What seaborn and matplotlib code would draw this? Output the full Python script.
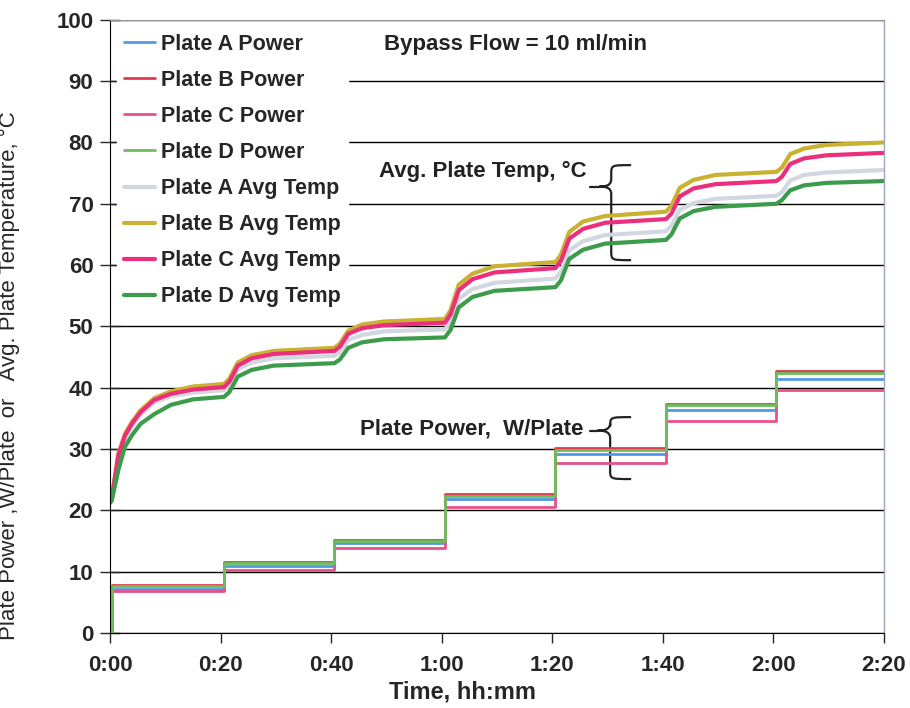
import matplotlib
matplotlib.use("Agg")
import matplotlib.pyplot as plt
from matplotlib.path import Path
from matplotlib.patches import PathPatch
from matplotlib.ticker import FuncFormatter, MultipleLocator
import pandas
import seaborn

# ---- data (minutes / W per plate / deg C) ----
POWER_TIME = [0, 0.3, 20.6, 40.6, 60.6, 80.6, 100.6, 120.6, 140]
POWER_A = [0, 7.2, 11.0, 14.6, 21.8, 29.2, 36.3, 41.5, 41.5]
POWER_B = [0, 7.8, 11.6, 15.2, 22.6, 30.2, 37.4, 42.8, 42.8]
POWER_C = [0, 6.9, 10.3, 13.8, 20.6, 27.8, 34.6, 39.6, 39.6]
POWER_D = [0, 7.6, 11.4, 15.0, 22.4, 29.9, 37.1, 42.4, 42.4]

TEMP_TIME = [0, 0.3, 1.5, 2.7, 4, 5.5, 8, 11, 15, 20.6,
             21.6, 23.1, 25.6, 29.6, 40.6,
             41.6, 43.1, 45.6, 49.6, 60.6,
             61.6, 63.1, 65.6, 69.6, 80.6,
             81.6, 83.1, 85.6, 89.6, 100.6,
             101.6, 103.1, 105.6, 109.6, 120.6,
             121.6, 123.1, 125.6, 129.6, 140]
TEMP_A = [21.4, 21.9, 28.5, 31.8, 33.8, 35.6, 37.6, 38.6, 39.2, 39.6,
          40.4, 43.0, 44.1, 44.8, 45.2,
          45.8, 47.8, 48.6, 49.2, 49.5,
          50.7, 54.5, 56.1, 57.1, 57.8,
          58.9, 62.4, 63.9, 64.9, 65.5,
          66.4, 69.0, 70.1, 70.8, 71.3,
          71.9, 73.8, 74.7, 75.1, 75.5]
TEMP_B = [21.5, 22.0, 29.3, 32.5, 34.5, 36.3, 38.3, 39.4, 40.2, 40.6,
          41.5, 44.1, 45.3, 46.0, 46.5,
          47.2, 49.3, 50.3, 50.8, 51.2,
          52.6, 56.8, 58.6, 59.8, 60.5,
          61.7, 65.4, 67.1, 68.0, 68.7,
          69.7, 72.6, 73.9, 74.7, 75.2,
          75.9, 78.1, 79.0, 79.6, 80.0]
TEMP_C = [21.5, 22.0, 29.0, 32.2, 34.2, 36.0, 38.0, 39.0, 39.7, 40.1,
          41.0, 43.6, 44.8, 45.5, 46.0,
          46.7, 48.8, 49.7, 50.2, 50.6,
          51.9, 55.9, 57.7, 58.8, 59.5,
          60.7, 64.3, 65.9, 66.9, 67.5,
          68.4, 71.2, 72.5, 73.2, 73.7,
          74.4, 76.5, 77.4, 77.9, 78.3]
TEMP_D = [21.2, 21.6, 26.6, 30.4, 32.3, 34.1, 35.7, 37.2, 38.1, 38.5,
          39.3, 41.8, 42.9, 43.6, 44.0,
          44.6, 46.5, 47.4, 47.9, 48.2,
          49.4, 53.1, 54.8, 55.8, 56.4,
          57.5, 61.0, 62.5, 63.5, 64.1,
          65.0, 67.6, 68.8, 69.5, 70.0,
          70.6, 72.2, 73.0, 73.4, 73.7]

POWER_SERIES = {
    "Plate A Power": (POWER_A, "#4f9ae6"),
    "Plate B Power": (POWER_B, "#e23a4e"),
    "Plate C Power": (POWER_C, "#e8508c"),
    "Plate D Power": (POWER_D, "#6cbf5c"),
}
TEMP_SERIES = {
    "Plate A Avg Temp": (TEMP_A, "#d3d7e0"),
    "Plate B Avg Temp": (TEMP_B, "#c9b232"),
    "Plate C Avg Temp": (TEMP_C, "#ec2f7c"),
    "Plate D Avg Temp": (TEMP_D, "#3d9c4c"),
}

FONT = "Liberation Sans"


def hhmm_formatter(x, pos):
    return f"{int(x // 60)}:{int(x % 60):02d}"


def draw_brace(ax, x_tip, x_mid, x_end, y_top, y_tip, y_bot):
    # curly brace opening to the right, tip pointing left
    r = (x_end - x_mid)
    verts = [
        (x_end, y_top), (x_mid, y_top), (x_mid, y_top), (x_mid, y_top - 1.5),
        (x_mid, y_tip + 1.2),
        (x_mid, y_tip), (x_mid - r * 0.4, y_tip), (x_mid - r * 0.6, y_tip),
        (x_mid - r * 0.4, y_tip), (x_mid, y_tip), (x_mid, y_tip - 1.2),
        (x_mid, y_bot + 1.5),
        (x_mid, y_bot), (x_mid, y_bot), (x_end, y_bot),
    ]
    codes = [Path.MOVETO, Path.CURVE4, Path.CURVE4, Path.CURVE4,
             Path.LINETO,
             Path.CURVE4, Path.CURVE4, Path.CURVE4,
             Path.CURVE4, Path.CURVE4, Path.CURVE4,
             Path.LINETO,
             Path.CURVE4, Path.CURVE4, Path.CURVE4]
    ax.add_patch(PathPatch(Path(verts, codes), fill=False, lw=1.6, color="#222222"))
    ax.plot([x_tip, x_mid - r * 0.6], [y_tip, y_tip], color="#222222", lw=1.6)


def draw_graph():
    seaborn.set_style("white")
    plt.rcParams["font.family"] = [FONT, "DejaVu Sans"]

    fig = plt.figure(figsize=(9.1, 7.08), dpi=100)
    ax = fig.add_axes([0.121, 0.106, 0.850, 0.866])

    for label, (values, color) in POWER_SERIES.items():
        df = pandas.DataFrame({"time": POWER_TIME, "value": values})
        seaborn.lineplot(x="time", y="value", data=df, ax=ax, color=color,
                         linewidth=2.0, drawstyle="steps-post", label=label)
    for label, (values, color) in TEMP_SERIES.items():
        df = pandas.DataFrame({"time": TEMP_TIME, "value": values})
        seaborn.lineplot(x="time", y="value", data=df, ax=ax, color=color,
                         linewidth=3.0, label=label)

    ax.set_xlim(0, 140)
    ax.set_ylim(0, 100)
    ax.xaxis.set_major_locator(MultipleLocator(20))
    ax.xaxis.set_major_formatter(FuncFormatter(hhmm_formatter))
    ax.yaxis.set_major_locator(MultipleLocator(10))
    ax.grid(True, axis="y", color="black", linewidth=1.0)
    ax.set_axisbelow(True)

    ax.tick_params(axis="y", direction="inout", length=14, width=1, left=True, pad=5)
    ax.tick_params(axis="x", direction="out", length=7, width=1, bottom=True, pad=9)
    for lab in ax.get_xticklabels() + ax.get_yticklabels():
        lab.set_fontweight("bold")
        lab.set_fontsize(16)

    ax.spines["left"].set_color("black")
    ax.spines["bottom"].set_color("black")
    ax.spines["right"].set_color("#9aa6c0")
    ax.spines["right"].set_linewidth(1.0)
    ax.spines["top"].set_color("#999999")
    ax.spines["top"].set_linestyle((0, (2, 1)))

    ax.set_xlabel("Time, hh:mm", fontsize=17, fontweight="bold")
    ax.xaxis.set_label_coords(0.456, -0.078)
    ax.set_ylabel("Plate Power ,W/Plate  or   Avg. Plate Temperature, \u00b0C",
                  fontsize=16)
    ax.yaxis.set_label_coords(-0.117, 0.42)

    ax.legend(loc="upper left", bbox_to_anchor=(0.0, 1.0), frameon=True,
              framealpha=1.0, edgecolor="white", facecolor="white",
              fancybox=False, handlelength=1.45, handletextpad=0.25,
              labelspacing=0.7, borderaxespad=0.3, borderpad=0.35,
              prop={"family": FONT, "weight": "bold", "size": 15.5})

    text_kw = dict(fontsize=16, fontweight="bold", color="#222222")
    ax.text(73.4, 95.9, "Bypass Flow = 10 ml/min", ha="center", va="center", **text_kw)
    ax.text(86.3, 75.3, "Avg. Plate Temp, \u00b0C", ha="right", va="center", **text_kw)
    ax.text(85.6, 33.3, "Plate Power,  W/Plate", ha="right", va="center", **text_kw)

    draw_brace(ax, 86.8, 90.7, 94.3, 76.3, 72.8, 60.8)
    draw_brace(ax, 86.8, 90.5, 94.3, 35.2, 33.0, 25.1)

    fig.savefig("out.png", dpi=100)


draw_graph()
